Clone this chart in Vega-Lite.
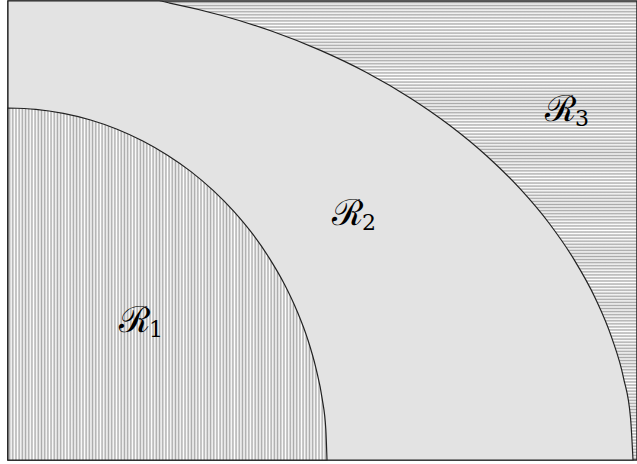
{
  "$schema": "https://vega.github.io/schema/vega-lite/v6.json",
  "width": 629,
  "height": 459,
  "padding": {"left": 8, "top": 1, "right": 0, "bottom": 4},
  "autosize": {"type": "none"},
  "background": "white",
  "config": {"view": {"stroke": null}},
  "datasets": {
    "frame": [{"x": 0, "x2": 629, "y": 0, "y2": 459}],
    "inner": [
      {"x": 0, "y": 352}, {"x": 27.8, "y": 350.7}, {"x": 55.4, "y": 346.6}, {"x": 82.6, "y": 340.0},
      {"x": 109.1, "y": 330.8}, {"x": 134.8, "y": 319.0}, {"x": 159.5, "y": 304.8}, {"x": 183.0, "y": 288.4},
      {"x": 205.1, "y": 269.6}, {"x": 225.6, "y": 248.9}, {"x": 244.4, "y": 226.3}, {"x": 261.3, "y": 201.9},
      {"x": 276.3, "y": 176.0}, {"x": 289.1, "y": 148.8}, {"x": 299.8, "y": 120.4}, {"x": 308.1, "y": 91.1},
      {"x": 314.2, "y": 61.1}, {"x": 317.8, "y": 30.7}, {"x": 319, "y": 0}
    ],
    "outer": [
      {"x": 0, "y": 459}, {"x": 151, "y": 459}, {"x": 161.8, "y": 456.9}, {"x": 213.8, "y": 444.5},
      {"x": 264.1, "y": 428.7}, {"x": 312.5, "y": 409.6}, {"x": 358.5, "y": 387.5}, {"x": 401.8, "y": 362.3},
      {"x": 441.9, "y": 334.5}, {"x": 478.8, "y": 304.0}, {"x": 512.0, "y": 271.3}, {"x": 541.3, "y": 236.5},
      {"x": 566.4, "y": 199.9}, {"x": 587.3, "y": 161.8}, {"x": 603.7, "y": 122.4}, {"x": 615.5, "y": 82.1},
      {"x": 622.6, "y": 41.2}, {"x": 625, "y": 0}
    ],
    "labels": [
      {"x": 126, "y": 139, "r": "ℛ", "s": "1"},
      {"x": 339, "y": 246, "r": "ℛ", "s": "2"},
      {"x": 552, "y": 350, "r": "ℛ", "s": "3"}
    ]
  },
  "encoding": {
    "x": {"field": "x", "type": "quantitative", "scale": {"domain": [0, 629], "nice": false, "zero": false}, "axis": null},
    "y": {"field": "y", "type": "quantitative", "scale": {"domain": [0, 459], "nice": false, "zero": false}, "axis": null}
  },
  "layer": [
    {
      "data": {"name": "frame"},
      "mark": {"type": "rect", "stroke": "#222", "strokeWidth": 1.5,
        "fill": {"gradient": "linear", "x1": 0, "y1": 0, "x2": 0, "y2": 1, "stops": [
{"offset":0,"color":"#fff"},{"offset":0.00333,"color":"#aaa"},{"offset":0.00667,"color":"#fff"},
{"offset":0.01,"color":"#aaa"},{"offset":0.01333,"color":"#fff"},{"offset":0.01667,"color":"#aaa"},
{"offset":0.02,"color":"#fff"},{"offset":0.02333,"color":"#aaa"},{"offset":0.02667,"color":"#fff"},
{"offset":0.03,"color":"#aaa"},{"offset":0.03333,"color":"#fff"},{"offset":0.03667,"color":"#aaa"},
{"offset":0.04,"color":"#fff"},{"offset":0.04333,"color":"#aaa"},{"offset":0.04667,"color":"#fff"},
{"offset":0.05,"color":"#aaa"},{"offset":0.05333,"color":"#fff"},{"offset":0.05667,"color":"#aaa"},
{"offset":0.06,"color":"#fff"},{"offset":0.06333,"color":"#aaa"},{"offset":0.06667,"color":"#fff"},
{"offset":0.07,"color":"#aaa"},{"offset":0.07333,"color":"#fff"},{"offset":0.07667,"color":"#aaa"},
{"offset":0.08,"color":"#fff"},{"offset":0.08333,"color":"#aaa"},{"offset":0.08667,"color":"#fff"},
{"offset":0.09,"color":"#aaa"},{"offset":0.09333,"color":"#fff"},{"offset":0.09667,"color":"#aaa"},
{"offset":0.1,"color":"#fff"},{"offset":0.10333,"color":"#aaa"},{"offset":0.10667,"color":"#fff"},
{"offset":0.11,"color":"#aaa"},{"offset":0.11333,"color":"#fff"},{"offset":0.11667,"color":"#aaa"},
{"offset":0.12,"color":"#fff"},{"offset":0.12333,"color":"#aaa"},{"offset":0.12667,"color":"#fff"},
{"offset":0.13,"color":"#aaa"},{"offset":0.13333,"color":"#fff"},{"offset":0.13667,"color":"#aaa"},
{"offset":0.14,"color":"#fff"},{"offset":0.14333,"color":"#aaa"},{"offset":0.14667,"color":"#fff"},
{"offset":0.15,"color":"#aaa"},{"offset":0.15333,"color":"#fff"},{"offset":0.15667,"color":"#aaa"},
{"offset":0.16,"color":"#fff"},{"offset":0.16333,"color":"#aaa"},{"offset":0.16667,"color":"#fff"},
{"offset":0.17,"color":"#aaa"},{"offset":0.17333,"color":"#fff"},{"offset":0.17667,"color":"#aaa"},
{"offset":0.18,"color":"#fff"},{"offset":0.18333,"color":"#aaa"},{"offset":0.18667,"color":"#fff"},
{"offset":0.19,"color":"#aaa"},{"offset":0.19333,"color":"#fff"},{"offset":0.19667,"color":"#aaa"},
{"offset":0.2,"color":"#fff"},{"offset":0.20333,"color":"#aaa"},{"offset":0.20667,"color":"#fff"},
{"offset":0.21,"color":"#aaa"},{"offset":0.21333,"color":"#fff"},{"offset":0.21667,"color":"#aaa"},
{"offset":0.22,"color":"#fff"},{"offset":0.22333,"color":"#aaa"},{"offset":0.22667,"color":"#fff"},
{"offset":0.23,"color":"#aaa"},{"offset":0.23333,"color":"#fff"},{"offset":0.23667,"color":"#aaa"},
{"offset":0.24,"color":"#fff"},{"offset":0.24333,"color":"#aaa"},{"offset":0.24667,"color":"#fff"},
{"offset":0.25,"color":"#aaa"},{"offset":0.25333,"color":"#fff"},{"offset":0.25667,"color":"#aaa"},
{"offset":0.26,"color":"#fff"},{"offset":0.26333,"color":"#aaa"},{"offset":0.26667,"color":"#fff"},
{"offset":0.27,"color":"#aaa"},{"offset":0.27333,"color":"#fff"},{"offset":0.27667,"color":"#aaa"},
{"offset":0.28,"color":"#fff"},{"offset":0.28333,"color":"#aaa"},{"offset":0.28667,"color":"#fff"},
{"offset":0.29,"color":"#aaa"},{"offset":0.29333,"color":"#fff"},{"offset":0.29667,"color":"#aaa"},
{"offset":0.3,"color":"#fff"},{"offset":0.30333,"color":"#aaa"},{"offset":0.30667,"color":"#fff"},
{"offset":0.31,"color":"#aaa"},{"offset":0.31333,"color":"#fff"},{"offset":0.31667,"color":"#aaa"},
{"offset":0.32,"color":"#fff"},{"offset":0.32333,"color":"#aaa"},{"offset":0.32667,"color":"#fff"},
{"offset":0.33,"color":"#aaa"},{"offset":0.33333,"color":"#fff"},{"offset":0.33667,"color":"#aaa"},
{"offset":0.34,"color":"#fff"},{"offset":0.34333,"color":"#aaa"},{"offset":0.34667,"color":"#fff"},
{"offset":0.35,"color":"#aaa"},{"offset":0.35333,"color":"#fff"},{"offset":0.35667,"color":"#aaa"},
{"offset":0.36,"color":"#fff"},{"offset":0.36333,"color":"#aaa"},{"offset":0.36667,"color":"#fff"},
{"offset":0.37,"color":"#aaa"},{"offset":0.37333,"color":"#fff"},{"offset":0.37667,"color":"#aaa"},
{"offset":0.38,"color":"#fff"},{"offset":0.38333,"color":"#aaa"},{"offset":0.38667,"color":"#fff"},
{"offset":0.39,"color":"#aaa"},{"offset":0.39333,"color":"#fff"},{"offset":0.39667,"color":"#aaa"},
{"offset":0.4,"color":"#fff"},{"offset":0.40333,"color":"#aaa"},{"offset":0.40667,"color":"#fff"},
{"offset":0.41,"color":"#aaa"},{"offset":0.41333,"color":"#fff"},{"offset":0.41667,"color":"#aaa"},
{"offset":0.42,"color":"#fff"},{"offset":0.42333,"color":"#aaa"},{"offset":0.42667,"color":"#fff"},
{"offset":0.43,"color":"#aaa"},{"offset":0.43333,"color":"#fff"},{"offset":0.43667,"color":"#aaa"},
{"offset":0.44,"color":"#fff"},{"offset":0.44333,"color":"#aaa"},{"offset":0.44667,"color":"#fff"},
{"offset":0.45,"color":"#aaa"},{"offset":0.45333,"color":"#fff"},{"offset":0.45667,"color":"#aaa"},
{"offset":0.46,"color":"#fff"},{"offset":0.46333,"color":"#aaa"},{"offset":0.46667,"color":"#fff"},
{"offset":0.47,"color":"#aaa"},{"offset":0.47333,"color":"#fff"},{"offset":0.47667,"color":"#aaa"},
{"offset":0.48,"color":"#fff"},{"offset":0.48333,"color":"#aaa"},{"offset":0.48667,"color":"#fff"},
{"offset":0.49,"color":"#aaa"},{"offset":0.49333,"color":"#fff"},{"offset":0.49667,"color":"#aaa"},
{"offset":0.5,"color":"#fff"},{"offset":0.50333,"color":"#aaa"},{"offset":0.50667,"color":"#fff"},
{"offset":0.51,"color":"#aaa"},{"offset":0.51333,"color":"#fff"},{"offset":0.51667,"color":"#aaa"},
{"offset":0.52,"color":"#fff"},{"offset":0.52333,"color":"#aaa"},{"offset":0.52667,"color":"#fff"},
{"offset":0.53,"color":"#aaa"},{"offset":0.53333,"color":"#fff"},{"offset":0.53667,"color":"#aaa"},
{"offset":0.54,"color":"#fff"},{"offset":0.54333,"color":"#aaa"},{"offset":0.54667,"color":"#fff"},
{"offset":0.55,"color":"#aaa"},{"offset":0.55333,"color":"#fff"},{"offset":0.55667,"color":"#aaa"},
{"offset":0.56,"color":"#fff"},{"offset":0.56333,"color":"#aaa"},{"offset":0.56667,"color":"#fff"},
{"offset":0.57,"color":"#aaa"},{"offset":0.57333,"color":"#fff"},{"offset":0.57667,"color":"#aaa"},
{"offset":0.58,"color":"#fff"},{"offset":0.58333,"color":"#aaa"},{"offset":0.58667,"color":"#fff"},
{"offset":0.59,"color":"#aaa"},{"offset":0.59333,"color":"#fff"},{"offset":0.59667,"color":"#aaa"},
{"offset":0.6,"color":"#fff"},{"offset":0.60333,"color":"#aaa"},{"offset":0.60667,"color":"#fff"},
{"offset":0.61,"color":"#aaa"},{"offset":0.61333,"color":"#fff"},{"offset":0.61667,"color":"#aaa"},
{"offset":0.62,"color":"#fff"},{"offset":0.62333,"color":"#aaa"},{"offset":0.62667,"color":"#fff"},
{"offset":0.63,"color":"#aaa"},{"offset":0.63333,"color":"#fff"},{"offset":0.63667,"color":"#aaa"},
{"offset":0.64,"color":"#fff"},{"offset":0.64333,"color":"#aaa"},{"offset":0.64667,"color":"#fff"},
{"offset":0.65,"color":"#aaa"},{"offset":0.65333,"color":"#fff"},{"offset":0.65667,"color":"#aaa"},
{"offset":0.66,"color":"#fff"},{"offset":0.66333,"color":"#aaa"},{"offset":0.66667,"color":"#fff"},
{"offset":0.67,"color":"#aaa"},{"offset":0.67333,"color":"#fff"},{"offset":0.67667,"color":"#aaa"},
{"offset":0.68,"color":"#fff"},{"offset":0.68333,"color":"#aaa"},{"offset":0.68667,"color":"#fff"},
{"offset":0.69,"color":"#aaa"},{"offset":0.69333,"color":"#fff"},{"offset":0.69667,"color":"#aaa"},
{"offset":0.7,"color":"#fff"},{"offset":0.70333,"color":"#aaa"},{"offset":0.70667,"color":"#fff"},
{"offset":0.71,"color":"#aaa"},{"offset":0.71333,"color":"#fff"},{"offset":0.71667,"color":"#aaa"},
{"offset":0.72,"color":"#fff"},{"offset":0.72333,"color":"#aaa"},{"offset":0.72667,"color":"#fff"},
{"offset":0.73,"color":"#aaa"},{"offset":0.73333,"color":"#fff"},{"offset":0.73667,"color":"#aaa"},
{"offset":0.74,"color":"#fff"},{"offset":0.74333,"color":"#aaa"},{"offset":0.74667,"color":"#fff"},
{"offset":0.75,"color":"#aaa"},{"offset":0.75333,"color":"#fff"},{"offset":0.75667,"color":"#aaa"},
{"offset":0.76,"color":"#fff"},{"offset":0.76333,"color":"#aaa"},{"offset":0.76667,"color":"#fff"},
{"offset":0.77,"color":"#aaa"},{"offset":0.77333,"color":"#fff"},{"offset":0.77667,"color":"#aaa"},
{"offset":0.78,"color":"#fff"},{"offset":0.78333,"color":"#aaa"},{"offset":0.78667,"color":"#fff"},
{"offset":0.79,"color":"#aaa"},{"offset":0.79333,"color":"#fff"},{"offset":0.79667,"color":"#aaa"},
{"offset":0.8,"color":"#fff"},{"offset":0.80333,"color":"#aaa"},{"offset":0.80667,"color":"#fff"},
{"offset":0.81,"color":"#aaa"},{"offset":0.81333,"color":"#fff"},{"offset":0.81667,"color":"#aaa"},
{"offset":0.82,"color":"#fff"},{"offset":0.82333,"color":"#aaa"},{"offset":0.82667,"color":"#fff"},
{"offset":0.83,"color":"#aaa"},{"offset":0.83333,"color":"#fff"},{"offset":0.83667,"color":"#aaa"},
{"offset":0.84,"color":"#fff"},{"offset":0.84333,"color":"#aaa"},{"offset":0.84667,"color":"#fff"},
{"offset":0.85,"color":"#aaa"},{"offset":0.85333,"color":"#fff"},{"offset":0.85667,"color":"#aaa"},
{"offset":0.86,"color":"#fff"},{"offset":0.86333,"color":"#aaa"},{"offset":0.86667,"color":"#fff"},
{"offset":0.87,"color":"#aaa"},{"offset":0.87333,"color":"#fff"},{"offset":0.87667,"color":"#aaa"},
{"offset":0.88,"color":"#fff"},{"offset":0.88333,"color":"#aaa"},{"offset":0.88667,"color":"#fff"},
{"offset":0.89,"color":"#aaa"},{"offset":0.89333,"color":"#fff"},{"offset":0.89667,"color":"#aaa"},
{"offset":0.9,"color":"#fff"},{"offset":0.90333,"color":"#aaa"},{"offset":0.90667,"color":"#fff"},
{"offset":0.91,"color":"#aaa"},{"offset":0.91333,"color":"#fff"},{"offset":0.91667,"color":"#aaa"},
{"offset":0.92,"color":"#fff"},{"offset":0.92333,"color":"#aaa"},{"offset":0.92667,"color":"#fff"},
{"offset":0.93,"color":"#aaa"},{"offset":0.93333,"color":"#fff"},{"offset":0.93667,"color":"#aaa"},
{"offset":0.94,"color":"#fff"},{"offset":0.94333,"color":"#aaa"},{"offset":0.94667,"color":"#fff"},
{"offset":0.95,"color":"#aaa"},{"offset":0.95333,"color":"#fff"},{"offset":0.95667,"color":"#aaa"},
{"offset":0.96,"color":"#fff"},{"offset":0.96333,"color":"#aaa"},{"offset":0.96667,"color":"#fff"},
{"offset":0.97,"color":"#aaa"},{"offset":0.97333,"color":"#fff"},{"offset":0.97667,"color":"#aaa"},
{"offset":0.98,"color":"#fff"},{"offset":0.98333,"color":"#aaa"},{"offset":0.98667,"color":"#fff"},
{"offset":0.99,"color":"#aaa"},{"offset":0.99333,"color":"#fff"},{"offset":0.99667,"color":"#aaa"},
{"offset":1,"color":"#fff"}
        ]}},
      "encoding": {"x2": {"field": "x2"}, "y2": {"field": "y2"}}
    },
    {
      "data": {"name": "outer"},
      "mark": {"type": "area", "interpolate": "monotone", "fill": "#e3e3e3", "stroke": "#222", "strokeWidth": 1.2},
      "encoding": {"y": {"field": "y", "type": "quantitative", "stack": null}}
    },
    {
      "data": {"name": "inner"},
      "mark": {"type": "area", "interpolate": "monotone", "stroke": "#222", "strokeWidth": 1.2,
        "fill": {"gradient": "linear", "x1": 0, "y1": 0, "x2": 1, "y2": 0, "stops": [
{"offset":0,"color":"#fff"},{"offset":0.005,"color":"#aaa"},{"offset":0.01,"color":"#fff"},{"offset":0.015,"color":"#aaa"},
{"offset":0.02,"color":"#fff"},{"offset":0.025,"color":"#aaa"},{"offset":0.03,"color":"#fff"},{"offset":0.035,"color":"#aaa"},
{"offset":0.04,"color":"#fff"},{"offset":0.045,"color":"#aaa"},{"offset":0.05,"color":"#fff"},{"offset":0.055,"color":"#aaa"},
{"offset":0.06,"color":"#fff"},{"offset":0.065,"color":"#aaa"},{"offset":0.07,"color":"#fff"},{"offset":0.075,"color":"#aaa"},
{"offset":0.08,"color":"#fff"},{"offset":0.085,"color":"#aaa"},{"offset":0.09,"color":"#fff"},{"offset":0.095,"color":"#aaa"},
{"offset":0.1,"color":"#fff"},{"offset":0.105,"color":"#aaa"},{"offset":0.11,"color":"#fff"},{"offset":0.115,"color":"#aaa"},
{"offset":0.12,"color":"#fff"},{"offset":0.125,"color":"#aaa"},{"offset":0.13,"color":"#fff"},{"offset":0.135,"color":"#aaa"},
{"offset":0.14,"color":"#fff"},{"offset":0.145,"color":"#aaa"},{"offset":0.15,"color":"#fff"},{"offset":0.155,"color":"#aaa"},
{"offset":0.16,"color":"#fff"},{"offset":0.165,"color":"#aaa"},{"offset":0.17,"color":"#fff"},{"offset":0.175,"color":"#aaa"},
{"offset":0.18,"color":"#fff"},{"offset":0.185,"color":"#aaa"},{"offset":0.19,"color":"#fff"},{"offset":0.195,"color":"#aaa"},
{"offset":0.2,"color":"#fff"},{"offset":0.205,"color":"#aaa"},{"offset":0.21,"color":"#fff"},{"offset":0.215,"color":"#aaa"},
{"offset":0.22,"color":"#fff"},{"offset":0.225,"color":"#aaa"},{"offset":0.23,"color":"#fff"},{"offset":0.235,"color":"#aaa"},
{"offset":0.24,"color":"#fff"},{"offset":0.245,"color":"#aaa"},{"offset":0.25,"color":"#fff"},{"offset":0.255,"color":"#aaa"},
{"offset":0.26,"color":"#fff"},{"offset":0.265,"color":"#aaa"},{"offset":0.27,"color":"#fff"},{"offset":0.275,"color":"#aaa"},
{"offset":0.28,"color":"#fff"},{"offset":0.285,"color":"#aaa"},{"offset":0.29,"color":"#fff"},{"offset":0.295,"color":"#aaa"},
{"offset":0.3,"color":"#fff"},{"offset":0.305,"color":"#aaa"},{"offset":0.31,"color":"#fff"},{"offset":0.315,"color":"#aaa"},
{"offset":0.32,"color":"#fff"},{"offset":0.325,"color":"#aaa"},{"offset":0.33,"color":"#fff"},{"offset":0.335,"color":"#aaa"},
{"offset":0.34,"color":"#fff"},{"offset":0.345,"color":"#aaa"},{"offset":0.35,"color":"#fff"},{"offset":0.355,"color":"#aaa"},
{"offset":0.36,"color":"#fff"},{"offset":0.365,"color":"#aaa"},{"offset":0.37,"color":"#fff"},{"offset":0.375,"color":"#aaa"},
{"offset":0.38,"color":"#fff"},{"offset":0.385,"color":"#aaa"},{"offset":0.39,"color":"#fff"},{"offset":0.395,"color":"#aaa"},
{"offset":0.4,"color":"#fff"},{"offset":0.405,"color":"#aaa"},{"offset":0.41,"color":"#fff"},{"offset":0.415,"color":"#aaa"},
{"offset":0.42,"color":"#fff"},{"offset":0.425,"color":"#aaa"},{"offset":0.43,"color":"#fff"},{"offset":0.435,"color":"#aaa"},
{"offset":0.44,"color":"#fff"},{"offset":0.445,"color":"#aaa"},{"offset":0.45,"color":"#fff"},{"offset":0.455,"color":"#aaa"},
{"offset":0.46,"color":"#fff"},{"offset":0.465,"color":"#aaa"},{"offset":0.47,"color":"#fff"},{"offset":0.475,"color":"#aaa"},
{"offset":0.48,"color":"#fff"},{"offset":0.485,"color":"#aaa"},{"offset":0.49,"color":"#fff"},{"offset":0.495,"color":"#aaa"},
{"offset":0.5,"color":"#fff"},{"offset":0.505,"color":"#aaa"},{"offset":0.51,"color":"#fff"},{"offset":0.515,"color":"#aaa"},
{"offset":0.52,"color":"#fff"},{"offset":0.525,"color":"#aaa"},{"offset":0.53,"color":"#fff"},{"offset":0.535,"color":"#aaa"},
{"offset":0.54,"color":"#fff"},{"offset":0.545,"color":"#aaa"},{"offset":0.55,"color":"#fff"},{"offset":0.555,"color":"#aaa"},
{"offset":0.56,"color":"#fff"},{"offset":0.565,"color":"#aaa"},{"offset":0.57,"color":"#fff"},{"offset":0.575,"color":"#aaa"},
{"offset":0.58,"color":"#fff"},{"offset":0.585,"color":"#aaa"},{"offset":0.59,"color":"#fff"},{"offset":0.595,"color":"#aaa"},
{"offset":0.6,"color":"#fff"},{"offset":0.605,"color":"#aaa"},{"offset":0.61,"color":"#fff"},{"offset":0.615,"color":"#aaa"},
{"offset":0.62,"color":"#fff"},{"offset":0.625,"color":"#aaa"},{"offset":0.63,"color":"#fff"},{"offset":0.635,"color":"#aaa"},
{"offset":0.64,"color":"#fff"},{"offset":0.645,"color":"#aaa"},{"offset":0.65,"color":"#fff"},{"offset":0.655,"color":"#aaa"},
{"offset":0.66,"color":"#fff"},{"offset":0.665,"color":"#aaa"},{"offset":0.67,"color":"#fff"},{"offset":0.675,"color":"#aaa"},
{"offset":0.68,"color":"#fff"},{"offset":0.685,"color":"#aaa"},{"offset":0.69,"color":"#fff"},{"offset":0.695,"color":"#aaa"},
{"offset":0.7,"color":"#fff"},{"offset":0.705,"color":"#aaa"},{"offset":0.71,"color":"#fff"},{"offset":0.715,"color":"#aaa"},
{"offset":0.72,"color":"#fff"},{"offset":0.725,"color":"#aaa"},{"offset":0.73,"color":"#fff"},{"offset":0.735,"color":"#aaa"},
{"offset":0.74,"color":"#fff"},{"offset":0.745,"color":"#aaa"},{"offset":0.75,"color":"#fff"},{"offset":0.755,"color":"#aaa"},
{"offset":0.76,"color":"#fff"},{"offset":0.765,"color":"#aaa"},{"offset":0.77,"color":"#fff"},{"offset":0.775,"color":"#aaa"},
{"offset":0.78,"color":"#fff"},{"offset":0.785,"color":"#aaa"},{"offset":0.79,"color":"#fff"},{"offset":0.795,"color":"#aaa"},
{"offset":0.8,"color":"#fff"},{"offset":0.805,"color":"#aaa"},{"offset":0.81,"color":"#fff"},{"offset":0.815,"color":"#aaa"},
{"offset":0.82,"color":"#fff"},{"offset":0.825,"color":"#aaa"},{"offset":0.83,"color":"#fff"},{"offset":0.835,"color":"#aaa"},
{"offset":0.84,"color":"#fff"},{"offset":0.845,"color":"#aaa"},{"offset":0.85,"color":"#fff"},{"offset":0.855,"color":"#aaa"},
{"offset":0.86,"color":"#fff"},{"offset":0.865,"color":"#aaa"},{"offset":0.87,"color":"#fff"},{"offset":0.875,"color":"#aaa"},
{"offset":0.88,"color":"#fff"},{"offset":0.885,"color":"#aaa"},{"offset":0.89,"color":"#fff"},{"offset":0.895,"color":"#aaa"},
{"offset":0.9,"color":"#fff"},{"offset":0.905,"color":"#aaa"},{"offset":0.91,"color":"#fff"},{"offset":0.915,"color":"#aaa"},
{"offset":0.92,"color":"#fff"},{"offset":0.925,"color":"#aaa"},{"offset":0.93,"color":"#fff"},{"offset":0.935,"color":"#aaa"},
{"offset":0.94,"color":"#fff"},{"offset":0.945,"color":"#aaa"},{"offset":0.95,"color":"#fff"},{"offset":0.955,"color":"#aaa"},
{"offset":0.96,"color":"#fff"},{"offset":0.965,"color":"#aaa"},{"offset":0.97,"color":"#fff"},{"offset":0.975,"color":"#aaa"},
{"offset":0.98,"color":"#fff"},{"offset":0.985,"color":"#aaa"},{"offset":0.99,"color":"#fff"},{"offset":0.995,"color":"#aaa"},
{"offset":1,"color":"#fff"}
        ]}},
      "encoding": {"y": {"field": "y", "type": "quantitative", "stack": null}}
    },
    {
      "data": {"name": "labels"},
      "mark": {"type": "text", "font": "DejaVu Serif", "fontSize": 36, "align": "center", "baseline": "middle", "color": "#000"},
      "encoding": {"text": {"field": "r"}}
    },
    {
      "data": {"name": "labels"},
      "mark": {"type": "text", "font": "DejaVu Serif", "fontSize": 22, "align": "center", "baseline": "middle", "dx": 22, "dy": 9, "color": "#000"},
      "encoding": {"text": {"field": "s"}}
    }
  ]
}
